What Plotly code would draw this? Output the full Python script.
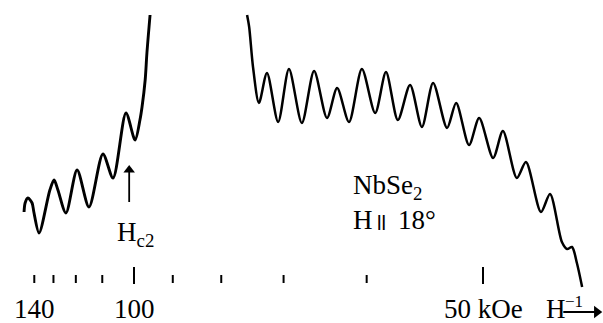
import plotly.graph_objects as go

# Magnetisation signal vs inverse field for NbSe2 (H at 18 deg), arbitrary units.
# Inverse field in units of 1e-3 kOe^-1 (i.e. 1000/H with H in kOe).

# High-field branch (above and just below Hc2)
left_inv_h = [6.85, 6.88, 6.96, 7.08, 7.13, 7.28, 7.59, 7.71, 7.82, 8.05,
              8.37, 8.71, 9.11, 9.40, 9.77, 10.03, 10.17, 10.23, 10.32, 10.37, 10.46]
left_signal = [0.58, 0.67, 0.72, 0.67, 0.58, 0.37, 0.80, 0.90, 0.80, 0.57,
               1.00, 0.63, 1.16, 0.92, 1.57, 1.30, 1.50, 1.63, 1.90, 2.17, 2.55]

# Low-field branch (mixed state, de Haas-van Alphen oscillations)
right_inv_h = [13.24, 13.30, 13.41, 13.58, 13.81, 14.13, 14.44, 14.81, 15.16, 15.53,
               15.82, 16.16, 16.53, 16.91, 17.22, 17.56, 17.91, 18.25, 18.57, 18.97,
               19.23, 19.60, 19.89, 20.29, 20.57, 20.97, 21.23, 21.66, 21.92, 22.26,
               22.41, 22.55, 22.69, 22.84]
right_signal = [2.55, 2.43, 2.03, 1.67, 1.97, 1.48, 2.01, 1.47, 1.99, 1.52,
                1.82, 1.48, 2.01, 1.57, 1.98, 1.50, 1.85, 1.43, 1.87, 1.42,
                1.67, 1.25, 1.52, 1.12, 1.39, 0.92, 1.08, 0.58, 0.76, 0.28,
                0.21, 0.23, 0.07, -0.17]

# Field scale (kOe) shown as ticks along the inverse-field axis
tick_fields = [140, 130, 120, 110, 100, 90, 80, 70, 60, 50]
major_fields = [100, 50]
label_fields = [140, 100, 50]
label_texts = ["140", "100", "50 kOe"]

hc2_field = 101.4  # upper critical field marker (kOe)

SERIF = "Liberation Serif, Times New Roman, serif"

fig = go.Figure()
fig.add_trace(go.Scatter(
    x=left_inv_h, y=left_signal, mode="lines",
    line=dict(color="black", width=2.9, shape="spline", smoothing=0.8),
    hoverinfo="skip"))
fig.add_trace(go.Scatter(
    x=right_inv_h, y=right_signal, mode="lines",
    line=dict(color="black", width=2.5, shape="spline", smoothing=0.8),
    hoverinfo="skip"))

# tick marks
for f in tick_fields:
    x = 1000.0 / f
    if f in major_fields:
        y0, y1 = -0.14, 0.03
    else:
        y0, y1 = -0.13, -0.05
    fig.add_shape(type="line", xref="x", yref="y", x0=x, x1=x, y0=y0, y1=y1,
                  line=dict(color="black", width=2))

# tick labels
for f, t in zip(label_fields, label_texts):
    fig.add_annotation(x=1000.0 / f, y=-0.39, xref="x", yref="y", text=t,
                       showarrow=False, xanchor="center", yanchor="middle",
                       font=dict(family=SERIF, size=27, color="black"))

# axis label H^-1 with arrow pointing to increasing inverse field
fig.add_annotation(x=22.08, y=-0.39, xref="x", yref="y", text="H",
                   showarrow=False, xanchor="center", yanchor="middle",
                   font=dict(family=SERIF, size=27, color="black"))
fig.add_annotation(x=22.62, y=-0.31, xref="x", yref="y", text="\u22121",
                   showarrow=False, xanchor="center", yanchor="middle",
                   font=dict(family=SERIF, size=17, color="black"))
fig.add_trace(go.Scatter(
    x=[22.30, 23.22], y=[-0.42, -0.42], mode="lines",
    line=dict(color="black", width=1.8), hoverinfo="skip"))
fig.add_trace(go.Scatter(
    x=[23.26], y=[-0.42], mode="markers",
    marker=dict(symbol="triangle-right", size=11, color="black"),
    hoverinfo="skip"))

# Hc2 marker arrow
hc2_x = 1000.0 / hc2_field
fig.add_trace(go.Scatter(
    x=[hc2_x, hc2_x], y=[0.68, 0.98], mode="lines",
    line=dict(color="black", width=1.8), hoverinfo="skip"))
fig.add_trace(go.Scatter(
    x=[hc2_x], y=[1.00], mode="markers",
    marker=dict(symbol="triangle-up", size=10, color="black"),
    hoverinfo="skip"))
fig.add_annotation(x=10.03, y=0.36, xref="x", yref="y", text="H<sub>c2</sub>",
                   showarrow=False, xanchor="center", yanchor="middle",
                   font=dict(family=SERIF, size=27, color="black"))

# sample / orientation label
fig.add_annotation(x=16.22, y=0.83, xref="x", yref="y", text="NbSe<sub>2</sub>",
                   showarrow=False, xanchor="left", yanchor="middle",
                   font=dict(family=SERIF, size=27, color="black"))
fig.add_annotation(x=16.22, y=0.50, xref="x", yref="y", text="H",
                   showarrow=False, xanchor="left", yanchor="middle",
                   font=dict(family=SERIF, size=27, color="black"))
fig.add_annotation(x=17.10, y=0.475, xref="x", yref="y", text="ll",
                   showarrow=False, xanchor="center", yanchor="middle",
                   font=dict(family="Liberation Sans, Arial, sans-serif", size=20, color="black"))
fig.add_annotation(x=17.52, y=0.50, xref="x", yref="y", text="18\u00b0",
                   showarrow=False, xanchor="left", yanchor="middle",
                   font=dict(family=SERIF, size=27, color="black"))

fig.update_layout(
    width=603, height=323,
    margin=dict(l=0, r=0, t=0, b=0),
    paper_bgcolor="white", plot_bgcolor="white",
    showlegend=False,
    xaxis=dict(range=[6.1605, 23.438], visible=False, fixedrange=True),
    yaxis=dict(range=[-0.53, 2.70], visible=False, fixedrange=True),
)

fig.write_html("out.html", config={"displayModeBar": False})
